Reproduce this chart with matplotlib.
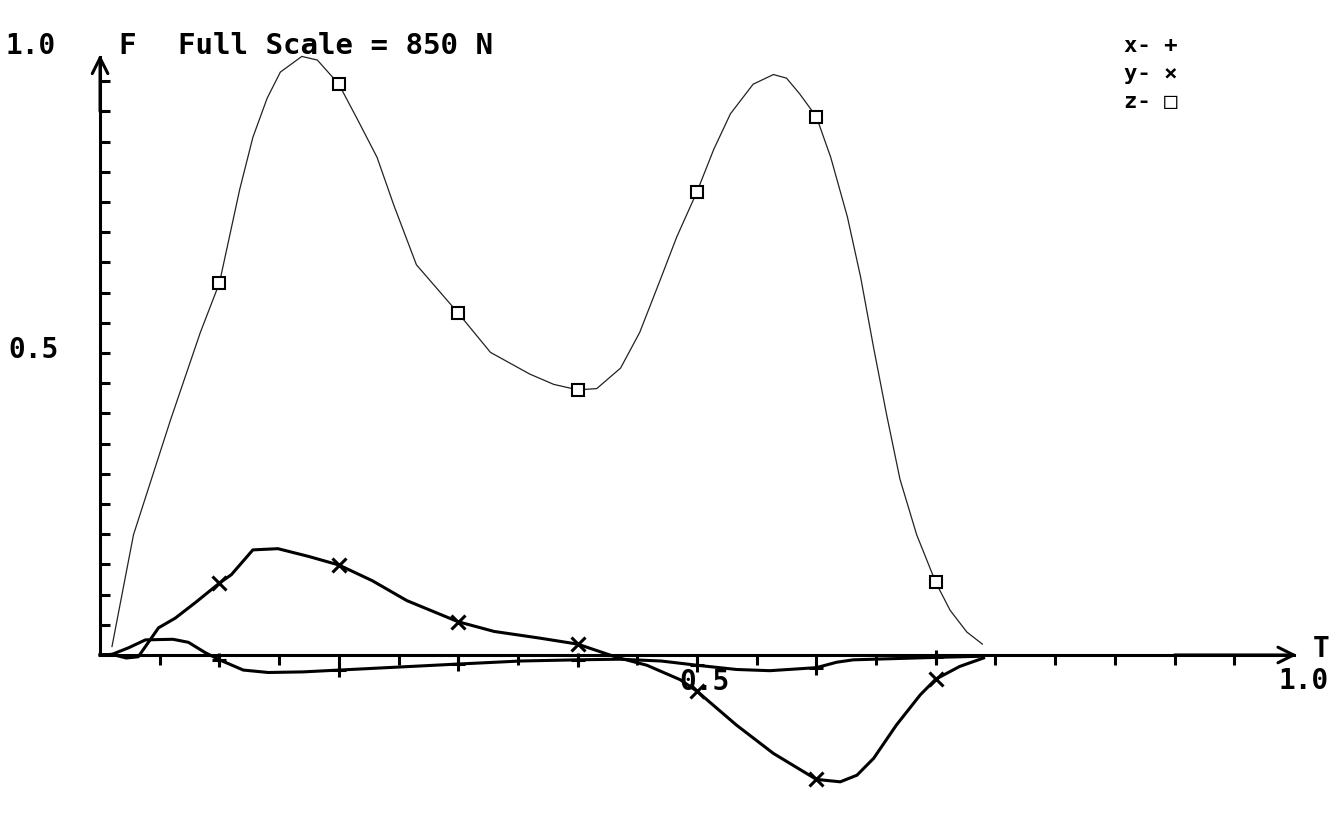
import matplotlib.pyplot as plt
import numpy as np

# force components (T normalised, F as fraction of full scale)
z_t = [0.010, 0.028, 0.059, 0.084, 0.100, 0.117, 0.128, 0.140, 0.151, 0.169,
       0.182, 0.200, 0.215, 0.232, 0.246, 0.265, 0.300, 0.327, 0.360, 0.380,
       0.400, 0.416, 0.436, 0.452, 0.469, 0.483, 0.500, 0.514, 0.528, 0.547,
       0.564, 0.575, 0.586, 0.600, 0.612, 0.626, 0.637, 0.648, 0.659, 0.670,
       0.684, 0.700, 0.712, 0.726, 0.739]
z_f = [0.014, 0.199, 0.389, 0.534, 0.616, 0.771, 0.857, 0.922, 0.965, 0.991,
       0.985, 0.945, 0.889, 0.824, 0.745, 0.646, 0.566, 0.501, 0.465, 0.448,
       0.439, 0.441, 0.475, 0.534, 0.620, 0.692, 0.767, 0.837, 0.896, 0.945,
       0.961, 0.955, 0.929, 0.891, 0.824, 0.725, 0.626, 0.508, 0.396, 0.291,
       0.199, 0.120, 0.074, 0.038, 0.018]

y_t = [0.000, 0.010, 0.022, 0.032, 0.049, 0.063, 0.080, 0.100, 0.110, 0.128,
       0.149, 0.175, 0.200, 0.228, 0.257, 0.300, 0.330, 0.368, 0.400, 0.433,
       0.458, 0.486, 0.500, 0.533, 0.564, 0.600, 0.620, 0.634, 0.648, 0.667,
       0.687, 0.700, 0.720, 0.740]
y_f = [0.000, 0.001, -0.005, -0.003, 0.045, 0.061, 0.087, 0.119, 0.133, 0.174,
       0.176, 0.163, 0.149, 0.123, 0.090, 0.055, 0.039, 0.028, 0.018, -0.004,
       -0.017, -0.041, -0.060, -0.116, -0.163, -0.206, -0.210, -0.199, -0.171, -0.116,
       -0.066, -0.040, -0.019, -0.005]

x_t = [0.000, 0.010, 0.024, 0.038, 0.061, 0.074, 0.088, 0.100, 0.120, 0.141,
       0.170, 0.200, 0.250, 0.300, 0.352, 0.400, 0.435, 0.470, 0.500, 0.533,
       0.561, 0.600, 0.617, 0.631, 0.700, 0.740]
x_f = [0.000, 0.001, 0.012, 0.025, 0.026, 0.021, 0.004, -0.008, -0.025, -0.029,
       -0.028, -0.025, -0.020, -0.015, -0.010, -0.008, -0.007, -0.010, -0.017, -0.024,
       -0.026, -0.021, -0.012, -0.008, -0.004, -0.002]

mark_t = [0.1, 0.2, 0.3, 0.4, 0.5, 0.6, 0.7]
z_marks = [0.616, 0.945, 0.566, 0.439, 0.767, 0.891, 0.120]
y_marks = [0.119, 0.149, 0.055, 0.018, -0.060, -0.206, -0.040]
x_marks = [-0.008, -0.025, -0.015, -0.008, -0.017, -0.021, -0.004]

FONT = ['DejaVu Sans Mono', 'DejaVu Sans']
plt.rcParams['font.family'] = FONT
plt.rcParams['font.weight'] = 'bold'

fig = plt.figure(figsize=(13.41, 8.27), dpi=100)
ax = fig.add_axes([0, 0, 1, 1])
ax.set_xlim(-0.0838, 1.0394)
ax.set_ylim(-0.2848, 1.0844)

# plotter style axes through the origin
for side in ['top', 'right']:
    ax.spines[side].set_visible(False)
ax.spines['left'].set_position(('data', 0))
ax.spines['bottom'].set_position(('data', 0))
ax.spines['left'].set_bounds(0, 0.99)
ax.spines['bottom'].set_bounds(0, 1.0)
for side in ['left', 'bottom']:
    ax.spines[side].set_linewidth(2.2)
ticks = np.arange(1, 20) * 0.05
ax.set_xticks(ticks)
ax.set_yticks(ticks)
ax.tick_params(axis='x', direction='out', length=7, width=2.2, labelbottom=False)
ax.tick_params(axis='y', direction='in', length=7, width=2.2, labelleft=False)

arrow = dict(arrowstyle='->', lw=2.2, color='black', mutation_scale=28, shrinkA=0, shrinkB=0)
ax.annotate('', xy=(0, 0.994), xytext=(0, 0.9), arrowprops=arrow)
ax.annotate('', xy=(1.0025, 0), xytext=(0.9, 0), arrowprops=arrow)

# curves
ax.plot(z_t, z_f, color='#222222', lw=0.9, solid_joinstyle='round')
ax.plot(y_t, y_f, color='black', lw=2.2, solid_joinstyle='round')
ax.plot(x_t, x_f, color='black', lw=2.2, solid_joinstyle='round')

ax.plot(mark_t, z_marks, ls='none', marker='s', ms=8, mfc='white', mec='black', mew=1.5)
ax.plot(mark_t, y_marks, ls='none', marker='x', ms=10, mec='black', mew=2.2)
ax.plot(mark_t, x_marks, ls='none', marker='+', ms=10, mec='black', mew=2.2)

# labels
ax.text(-0.0796, 1.008, '1.0', fontsize=20, ha='left', va='center')
ax.text(-0.0770, 0.505, '0.5', fontsize=20, ha='left', va='center')
ax.text(0.015, 1.008, 'F', fontsize=21, ha='left', va='center')
ax.text(0.065, 1.008, 'Full Scale = 850 N', fontsize=21, ha='left', va='center')
ax.text(0.506, -0.045, '0.5', fontsize=20, ha='center', va='center')
ax.text(1.008, -0.043, '1.0', fontsize=20, ha='center', va='center')
ax.text(1.023, 0.010, 'T', fontsize=20, ha='center', va='center')

# key
ax.text(0.858, 1.008, 'x- +', fontsize=16, ha='left', va='center')
ax.text(0.858, 0.962, 'y- ×', fontsize=16, ha='left', va='center')
ax.text(0.858, 0.916, 'z- □', fontsize=16, ha='left', va='center')

fig.savefig('out.png', dpi=100, facecolor='white')
